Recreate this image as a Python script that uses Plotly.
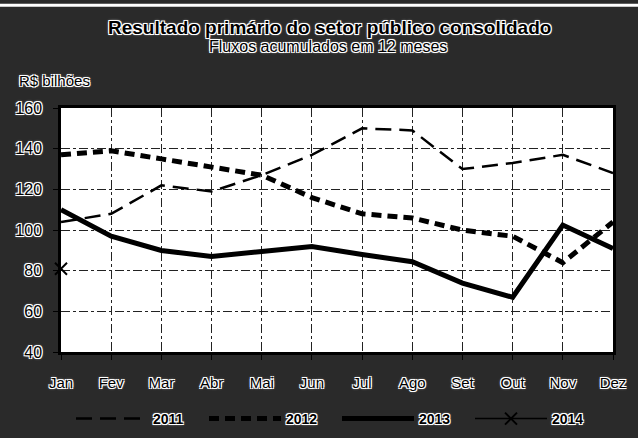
import plotly.graph_objects as go

months = ["Jan", "Fev", "Mar", "Abr", "Mai", "Jun", "Jul", "Ago", "Set", "Out", "Nov", "Dez"]
s2011 = [104, 108, 122, 119, 127, 137, 150, 149, 130, 133, 137, 128]
s2012 = [137, 139, 135, 131, 127, 116, 108, 106, 100, 97, 84, 104]
s2013 = [110, 97, 90, 87, 89.5, 92, 88, 84.5, 74, 67, 102.5, 91]
s2014_months = ["Jan"]
s2014 = [81]

halo = "1px 1px 0 #fff, -1px -1px 0 #fff, 1px -1px 0 #fff, -1px 1px 0 #fff, 0 0 3px #fff"
FONT = "Liberation Sans, Arial, sans-serif"

W, H = 638, 438
L, R, T, B = 61, 25, 108, 77
PW, PH = W - L - R, H - T - B


def px(x):
    return (x - L) / PW


def py(y):
    return (H - B - y) / PH


fig = go.Figure()
fig.add_trace(go.Scatter(x=months, y=s2011, name="2011", mode="lines",
                         line=dict(color="black", width=2.5, dash="16px,8px")))
fig.add_trace(go.Scatter(x=months, y=s2012, name="2012", mode="lines",
                         line=dict(color="black", width=5, dash="10px,6px")))
fig.add_trace(go.Scatter(x=months, y=s2013, name="2013", mode="lines",
                         line=dict(color="black", width=5)))
fig.add_trace(go.Scatter(x=s2014_months, y=s2014, name="2014", mode="lines+markers",
                         cliponaxis=False,
                         line=dict(color="black", width=1.5),
                         marker=dict(symbol="x-thin", size=12, line=dict(color="black", width=2))))

fig.update_layout(
    width=W, height=H,
    margin=dict(l=L, r=R, t=T, b=B),
    paper_bgcolor="#2a2a2a",
    plot_bgcolor="white",
    font=dict(family=FONT, color="black", size=14, shadow=halo),
    showlegend=True,
    legend=dict(orientation="h", xref="container", yref="container",
                x=337 / W, xanchor="center", y=(H - 419) / H, yanchor="middle",
                itemwidth=72, font=dict(size=14, weight="bold", shadow=halo),
                bgcolor="rgba(0,0,0,0)", entrywidth=46, entrywidthmode="pixels",
                traceorder="normal"),
    annotations=[
        dict(text="<b>Resultado primário do setor público consolidado</b>",
             x=px(329), y=py(25), xref="paper", yref="paper", xanchor="center", yanchor="middle",
             showarrow=False, font=dict(size=19)),
        dict(text="Fluxos acumulados em 12 meses",
             x=px(328), y=py(44), xref="paper", yref="paper", xanchor="center", yanchor="middle",
             showarrow=False, font=dict(size=16)),
        dict(text="R$ bilhões",
             x=px(17), y=py(80), xref="paper", yref="paper", xanchor="left", yanchor="middle",
             showarrow=False, font=dict(size=15)),
    ],
    shapes=[dict(type="rect", xref="paper", yref="paper", x0=px(0), x1=px(W),
                 y0=py(3), y1=py(0), fillcolor="white", line=dict(width=0), layer="below")],
)

fig.update_xaxes(type="category", range=[0, 11], showgrid=True, gridcolor="#222",
                 griddash="dashdot", gridwidth=1, showline=True, linecolor="black",
                 linewidth=2.5, mirror=True, ticks="outside", ticklen=5, tickcolor="black",
                 ticklabelstandoff=10, tickfont=dict(size=15))
fig.update_yaxes(range=[40, 160], dtick=20, showgrid=True, gridcolor="#222",
                 griddash="dashdot", gridwidth=1, showline=True, linecolor="black",
                 linewidth=2.5, mirror=True, ticks="outside", ticklen=5, tickcolor="black",
                 ticklabelstandoff=8, zeroline=False, tickfont=dict(size=16))

fig.write_html("out.html",
               config={"displayModeBar": False},
               post_script="document.body.style.margin='0';document.body.style.overflow='hidden';"
                           "document.body.style.background='#2a2a2a';")
